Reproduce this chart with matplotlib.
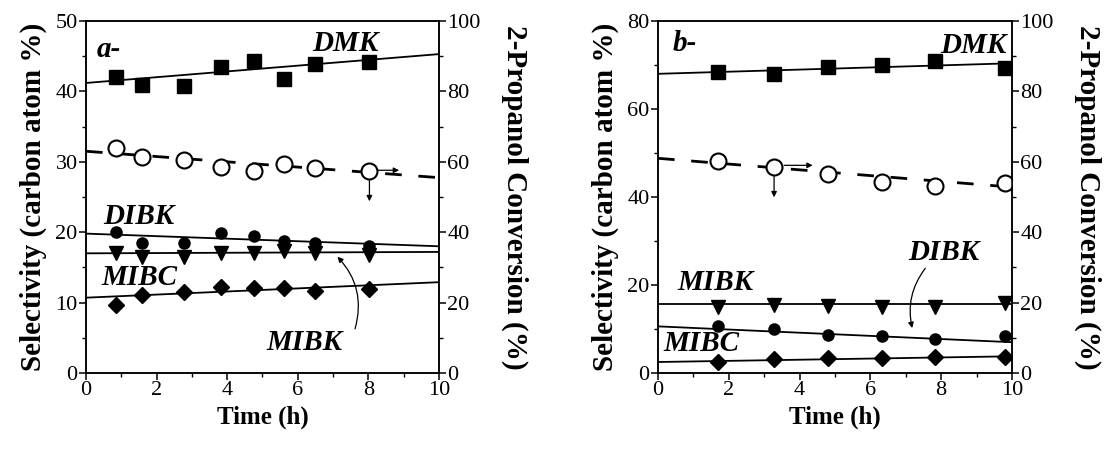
import matplotlib

matplotlib.use("Agg")
import matplotlib.pyplot as plt
from matplotlib.ticker import MultipleLocator

plt.rcParams["font.family"] = ["Liberation Serif", "DejaVu Serif"]

# panel a
time_a = [0.85, 1.6, 2.77, 3.83, 4.76, 5.62, 6.5, 8.03]
dmk_a = [42.1, 40.9, 40.7, 43.4, 44.3, 41.8, 43.9, 44.2]
dibk_a = [20.1, 18.4, 18.4, 19.95, 19.4, 18.8, 18.5, 18.1]
mibk_a = [17.1, 16.5, 16.5, 17.0, 17.0, 17.3, 17.0, 16.8]
mibc_a = [9.7, 11.1, 11.5, 12.2, 12.1, 12.1, 11.6, 11.9]
conv_a = [64.0, 61.3, 60.5, 58.6, 57.5, 59.5, 58.3, 57.5]

# panel b
time_b = [1.7, 3.28, 4.81, 6.33, 7.82, 9.8]
dmk_b = [68.4, 68.0, 69.6, 70.0, 71.0, 69.4]
mibk_b = [15.0, 15.5, 15.2, 15.0, 14.9, 15.8]
dibk_b = [10.7, 10.1, 8.6, 8.3, 7.7, 8.3]
mibc_b = [2.6, 3.1, 3.3, 3.5, 3.7, 3.6]
conv_b = [60.3, 58.5, 56.6, 54.4, 53.0, 54.0]

# trend lines, read as end values at t=0 and t=10
fit_x = [0, 10]
fit_a = {"dmk": [41.2, 45.3], "dibk": [19.8, 18.0], "mibk": [17.0, 17.2],
         "mibc": [10.7, 12.9], "conv": [63.0, 55.5]}
fit_b = {"dmk": [68.0, 70.4], "dibk": [10.6, 7.0], "mibk": [15.6, 15.6],
         "mibc": [2.5, 3.8], "conv": [61.0, 52.8]}

TICK = 16
LABEL_Y = 21
LABEL_X = 18
NOTE = 21
NOTE_FONT = dict(fontsize=NOTE, fontweight="bold", fontstyle="italic")
ARROW = dict(arrowstyle="-|>", color="black", lw=0.9, mutation_scale=8)


def style_axes(ax, ax2, ymax, ymajor):
    ax.set_xlim(0, 10)
    ax.set_ylim(0, ymax)
    ax2.set_ylim(0, 100)
    ax.xaxis.set_major_locator(MultipleLocator(2))
    ax.xaxis.set_minor_locator(MultipleLocator(1))
    ax.yaxis.set_major_locator(MultipleLocator(ymajor))
    ax.yaxis.set_minor_locator(MultipleLocator(ymajor / 2))
    ax2.yaxis.set_major_locator(MultipleLocator(20))
    ax2.yaxis.set_minor_locator(MultipleLocator(10))
    for a in (ax, ax2):
        a.tick_params(which="major", direction="out", length=5, width=1.1, labelsize=TICK, pad=1)
        a.tick_params(which="minor", direction="out", length=3, width=1.0)
        for s in a.spines.values():
            s.set_linewidth(1.1)
    ax.set_xlabel("Time (h)", fontsize=LABEL_X, fontweight="bold", labelpad=4)
    ax.set_ylabel("Selectivity (carbon atom %)", fontsize=LABEL_Y, fontweight="bold", labelpad=6)
    ax2.set_ylabel("2-Propanol Conversion (%)", fontsize=LABEL_Y, fontweight="bold",
                   rotation=270, labelpad=34)


def draw_series(ax, ax2, t, dmk, dibk, mibk, mibc, conv, fit):
    k = dict(color="black", lw=1.3)
    ax.plot(fit_x, fit["dmk"], **k)
    ax.plot(fit_x, fit["dibk"], **k)
    ax.plot(fit_x, fit["mibk"], **k)
    ax.plot(fit_x, fit["mibc"], **k)
    ax2.plot(fit_x, fit["conv"], color="black", lw=2.0, dashes=(6, 6))
    ax.plot(t, dmk, "s", color="black", ms=10)
    ax.plot(t, dibk, "o", color="black", ms=8)
    ax.plot(t, mibk, "v", color="black", ms=10)
    ax.plot(t, mibc, "D", color="black", ms=8)
    ax2.plot(t, conv, "o", mfc="white", mec="black", mew=1.5, ms=11.5)


fig = plt.figure(figsize=(11.15, 4.5), dpi=100)

# ---- panel a
ax = fig.add_axes([0.0771, 0.1711, 0.3166, 0.7822])
ax2 = ax.twinx()
draw_series(ax, ax2, time_a, dmk_a, dibk_a, mibk_a, mibc_a, conv_a, fit_a)
style_axes(ax, ax2, 50, 10)
ax.text(0.3, 46, "a-", ha="left", va="center", **NOTE_FONT)
ax.text(7.35, 46.8, "DMK", ha="center", va="center", **NOTE_FONT)
ax.text(1.5, 22.3, "DIBK", ha="center", va="center", **NOTE_FONT)
ax.text(1.5, 13.6, "MIBC", ha="center", va="center", **NOTE_FONT)
ax.text(6.2, 4.4, "MIBK", ha="center", va="center", **NOTE_FONT)
ax.annotate("", xy=(7.07, 16.8), xytext=(7.6, 5.9),
            arrowprops=dict(ARROW, connectionstyle="arc3,rad=0.3"))
ax.annotate("", xy=(8.95, 28.8), xytext=(8.2, 28.8), arrowprops=ARROW)
ax.annotate("", xy=(8.03, 24.0), xytext=(8.03, 28.1), arrowprops=ARROW)

# ---- panel b
bx = fig.add_axes([0.5901, 0.1711, 0.3175, 0.7822])
bx2 = bx.twinx()
draw_series(bx, bx2, time_b, dmk_b, dibk_b, mibk_b, mibc_b, conv_b, fit_b)
style_axes(bx, bx2, 80, 20)
bx.text(0.42, 75, "b-", ha="left", va="center", **NOTE_FONT)
bx.text(9.85, 74.5, "DMK", ha="right", va="center", **NOTE_FONT)
bx.text(1.63, 20.5, "MIBK", ha="center", va="center", **NOTE_FONT)
bx.text(8.07, 27.5, "DIBK", ha="center", va="center", **NOTE_FONT)
bx.text(1.23, 6.6, "MIBC", ha="center", va="center", **NOTE_FONT)
bx.annotate("", xy=(7.2, 9.6), xytext=(7.6, 24.3),
            arrowprops=dict(ARROW, connectionstyle="arc3,rad=0.25"))
bx.annotate("", xy=(4.45, 47.2), xytext=(3.49, 47.2), arrowprops=ARROW)
bx.annotate("", xy=(3.28, 39.3), xytext=(3.28, 45.3), arrowprops=ARROW)

fig.savefig("out.png", dpi=100)
